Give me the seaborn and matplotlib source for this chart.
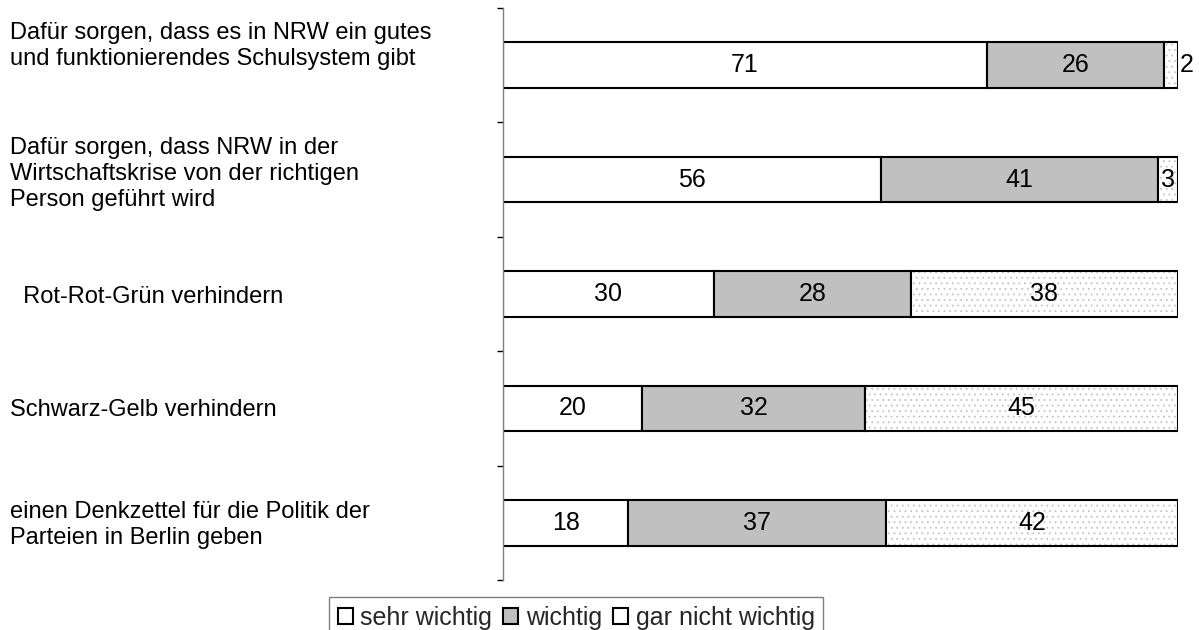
import numpy as np
import matplotlib
matplotlib.use("Agg")
import matplotlib.pyplot as plt
import matplotlib.transforms as mtransforms
from matplotlib.patches import Patch
import seaborn as sns

# Survey items (top to bottom) and shares of answers in percent
categories = [
    "Dafür sorgen, dass es in NRW ein gutes\nund funktionierendes Schulsystem gibt",
    "Dafür sorgen, dass NRW in der\nWirtschaftskrise von der richtigen\nPerson geführt wird",
    "  Rot-Rot-Grün verhindern",
    "Schwarz-Gelb verhindern",
    "einen Denkzettel für die Politik der\nParteien in Berlin geben",
]
sehr_wichtig = [71, 56, 30, 20, 18]
wichtig = [26, 41, 28, 32, 37]
gar_nicht_wichtig = [2, 3, 38, 45, 42]
series_names = ["sehr wichtig", "wichtig", "gar nicht wichtig"]

sns.set_theme(style="white")
plt.rcParams["font.family"] = ["Liberation Sans", "DejaVu Sans"]
plt.rcParams["hatch.linewidth"] = 0.6

values = np.array([sehr_wichtig, wichtig, gar_nicht_wichtig], dtype=float)
totals = values.sum(axis=0)
shares = values / totals * 100          # each bar spans the full width
lefts = np.vstack([np.zeros(len(categories)), np.cumsum(shares, axis=0)[:-1]])

fig = plt.figure(figsize=(11.99, 6.30), dpi=100)
ax = fig.add_axes([503 / 1199, 1 - 580 / 630, (1178 - 503) / 1199, (580 - 8) / 630])

bar_w = 0.4
edge_lw = 1.5

# sehr wichtig: plain white
sns.barplot(x=shares[0], y=categories, orient="y", color="white", saturation=1,
            width=bar_w, edgecolor="black", linewidth=edge_lw, ax=ax)
# wichtig: grey
sns.barplot(x=shares[1], y=categories, orient="y", color="#C0C0C0", saturation=1,
            width=bar_w, edgecolor="black", linewidth=edge_lw, left=lefts[1], ax=ax)
# gar nicht wichtig: white with fine grey dots, then a black outline on top
sns.barplot(x=shares[2], y=categories, orient="y", color="white", saturation=1,
            width=bar_w, edgecolor="#C4C4C4", linewidth=0, hatch="...",
            left=lefts[2], ax=ax)
sns.barplot(x=shares[2], y=categories, orient="y", color="white", saturation=1,
            width=bar_w, facecolor="none", edgecolor="black", linewidth=edge_lw,
            left=lefts[2], ax=ax)

ax.set_xlim(0, 100)
ax.set_ylim(len(categories) - 0.5, -0.5)
ax.set_xlabel("")
ax.set_ylabel("")
ax.xaxis.set_visible(False)
for side in ("top", "right", "bottom"):
    ax.spines[side].set_visible(False)
ax.spines["left"].set_color("#808080")
ax.spines["left"].set_linewidth(1.0)
ax.tick_params(axis="y", which="major", length=0, labelleft=False)
ax.set_yticks(np.arange(-0.5, len(categories), 1.0), minor=True)
ax.tick_params(axis="y", which="minor", left=True, length=4, width=1,
               color="black", direction="out")

# Value labels inside the segments; narrow segments get their label beside the bar
for s in range(values.shape[0]):
    for i in range(len(categories)):
        w = shares[s, i]
        if w < 2.5:
            ax.annotate(f"{values[s, i]:.0f}", xy=(lefts[s, i] + w, i),
                        xytext=(1, 0), textcoords="offset points",
                        ha="left", va="center", fontsize=18, color="black")
        else:
            ax.text(lefts[s, i] + w / 2, i, f"{values[s, i]:.0f}",
                    ha="center", va="center", fontsize=18, color="black")

# Category labels at the left edge of the figure
label_shift_pt = [14, 4, -2, -1.5, -1.5]
base = mtransforms.blended_transform_factory(fig.transFigure, ax.transData)
for i, (lab, dy) in enumerate(zip(categories, label_shift_pt)):
    tr = mtransforms.offset_copy(base, fig=fig, x=0, y=dy, units="points")
    fig.text(10 / 1199, i, lab, transform=tr, ha="left", va="center",
             fontsize=17, linespacing=1.22, color="black")

handles = [
    Patch(facecolor="white", edgecolor="black", linewidth=1.5),
    Patch(facecolor="#C0C0C0", edgecolor="black", linewidth=1.5),
    Patch(facecolor="white", edgecolor="black", linewidth=1.5),
]
leg = fig.legend(handles, series_names, loc="upper center", ncol=3,
                 bbox_to_anchor=(576 / 1199, 1 - 597 / 630), fontsize=18,
                 frameon=True, fancybox=False, edgecolor="#808080",
                 framealpha=1, handlelength=0.6, handleheight=0.6,
                 handletextpad=0.3, columnspacing=0.45, borderpad=0.35,
                 borderaxespad=0)
leg.get_frame().set_linewidth(1.0)

fig.savefig("out.png", dpi=100)
